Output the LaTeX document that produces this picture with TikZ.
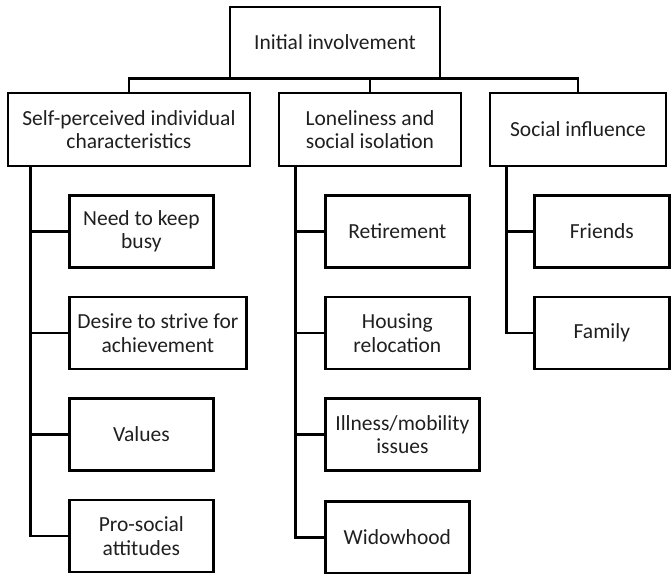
\documentclass[tikz,border=0pt]{standalone}
\usepackage{fontspec}
\setmainfont{Carlito}
\begin{document}
\begin{tikzpicture}[x=1pt,y=-1pt,
  box/.style={draw=black,line width=2.7pt,align=center,inner sep=2pt,
    font=\fontsize{21.5}{23.5}\selectfont,text=black!88},
  conn/.style={draw=black,line width=2.7pt}]
\useasboundingbox (0,0) rectangle (672,573);
% top
\node[box,minimum width=210pt,minimum height=71pt] (top) at (335,42.5) {Initial involvement};
% level 2
\node[box,minimum width=242pt,minimum height=73pt] (l1) at (128.9,129.5) {Self-perceived individual\\characteristics};
\node[box,minimum width=182pt,minimum height=73pt] (l2) at (370,129.5) {Loneliness and\\social isolation};
\node[box,minimum width=176pt,minimum height=73pt] (l3) at (578,129.5) {Social influence};
% column 1
\node[box,minimum width=144pt,minimum height=72pt,anchor=west] (a1) at (68,231.5) {Need to keep\\busy};
\node[box,minimum width=177pt,minimum height=72pt,anchor=west] (a2) at (68,333) {Desire to strive for\\achievement};
\node[box,minimum width=144pt,minimum height=72pt,anchor=west] (a3) at (68,434.5) {Values};
\node[box,minimum width=144pt,minimum height=72pt,anchor=west] (a4) at (68,536) {Pro-social\\attitudes};
% column 2
\node[box,minimum width=144pt,minimum height=72pt,anchor=west] (b1) at (324,231.5) {Retirement};
\node[box,minimum width=144pt,minimum height=72pt,anchor=west] (b2) at (324,333) {Housing\\relocation};
\node[box,minimum width=154pt,minimum height=72pt,anchor=west] (b3) at (324,434.5) {Illness/mobility\\issues};
\node[box,minimum width=144pt,minimum height=72pt,anchor=west] (b4) at (324,537.5) {Widowhood};
% column 3
\node[box,minimum width=135pt,minimum height=72pt,anchor=west] (c1) at (533,231.5) {Friends};
\node[box,minimum width=135pt,minimum height=72pt,anchor=west] (c2) at (533,333) {Family};
% trunk start points
\coordinate (t1) at ([xshift=24pt]l1.south west);
\coordinate (t2) at ([xshift=18pt]l2.south west);
\coordinate (t3) at ([xshift=18pt]l3.south west);
% connectors top
\draw[conn] (l1.north) |- ([yshift=1pt]top.south) -| (l3.north);
\draw[conn] (l2.north) -- (l2.north |- top.south);
% column 1
\draw[conn] (t1) |- (a4.west);
\draw[conn] (t1 |- a1.west) -- (a1.west);
\draw[conn] (t1 |- a2.west) -- (a2.west);
\draw[conn] (t1 |- a3.west) -- (a3.west);
% column 2
\draw[conn] (t2) |- (b4.west);
\draw[conn] (t2 |- b1.west) -- (b1.west);
\draw[conn] (t2 |- b2.west) -- (b2.west);
\draw[conn] (t2 |- b3.west) -- (b3.west);
% column 3
\draw[conn] (t3) |- (c2.west);
\draw[conn] (t3 |- c1.west) -- (c1.west);
\end{tikzpicture}
\end{document}
